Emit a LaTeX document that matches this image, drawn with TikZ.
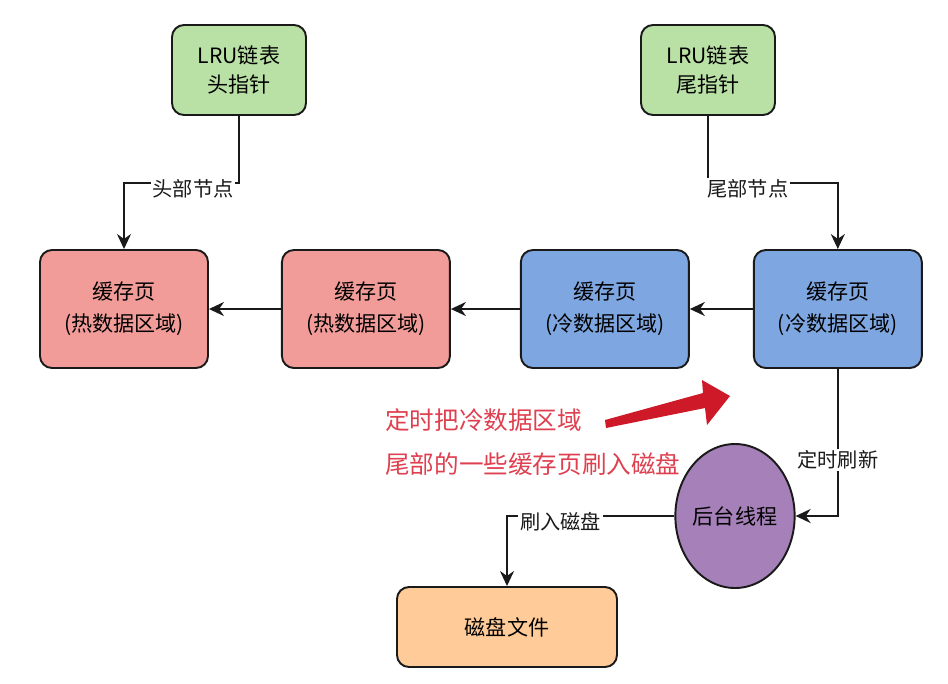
\documentclass[tikz,border=0pt]{standalone}
\usepackage{fontspec}
\setmainfont{Noto Sans CJK SC}
\usetikzlibrary{arrows.meta,positioning,shapes.geometric}
\definecolor{lrugreen}{HTML}{B9E0A5}
\definecolor{hotred}{HTML}{F19C99}
\definecolor{coldblue}{HTML}{7EA6E0}
\definecolor{diskorange}{HTML}{FFCC99}
\definecolor{threadpurple}{HTML}{A680B8}
\definecolor{notetext}{HTML}{DE4050}
\definecolor{notered}{HTML}{CD1928}
\definecolor{edgedark}{HTML}{1A1A1A}

\begin{document}
\begin{tikzpicture}[
    x=0.2mm, y=-0.2mm,
    font=\fontsize{12}{18}\selectfont,
    pagebox/.style={draw=edgedark,line width=1.1pt,rounded corners=2.4mm,align=center,minimum width=33.6mm,minimum height=23.6mm,inner sep=0pt},
    ptrbox/.style={pagebox,fill=lrugreen,minimum width=26.8mm,minimum height=18mm,font=\fontsize{12}{17}\selectfont},
    lbl/.style={fill=white,inner sep=1pt,yshift=-1.2mm,font=\fontsize{11.5}{14}\selectfont},
    arrow/.style={-{Stealth[length=3mm,width=2.8mm]},line width=1.1pt,edgedark}
  ]
    \useasboundingbox (0,0) rectangle (948,683);
    \node[ptrbox] (head) at (239,70) {LRU链表\\头指针};
    \node[ptrbox] (tail) at (708,70) {LRU链表\\尾指针};
    \node[pagebox,fill=hotred] (hot1) at (124,309) {缓存页\\(热数据区域)};
    \node[pagebox,fill=hotred,right=14.4mm of hot1] (hot2) {缓存页\\(热数据区域)};
    \node[pagebox,fill=coldblue,right=13.8mm of hot2] (cold1) {缓存页\\(冷数据区域)};
    \node[pagebox,fill=coldblue,right=12.6mm of cold1] (cold2) {缓存页\\(冷数据区域)};
    \node[ellipse,draw=edgedark,line width=1.1pt,fill=threadpurple,inner sep=0pt,minimum width=20mm,minimum height=28.8mm] (worker) at (735,516) {后台线程};
    \node[pagebox,fill=diskorange,minimum width=44mm,minimum height=16mm] (disk) at (507,627) {磁盘文件};
    \node[anchor=west,align=left,inner sep=0pt,text=notetext,font=\fontsize{14}{25.5}\selectfont] (note) at (385,442) {定时把冷数据区域\\尾部的一些缓存页刷入磁盘};

    % pointers
    \coordinate (hbend) at (239,183);
    \coordinate (tbend) at (708,183);
    \draw[arrow] (head.south) -- (hbend) -| node[lbl,pos=0.2] {头部节点} (hot1.north);
    \draw[arrow] (tail.south) -- (tbend) -| node[lbl,pos=0.154] {尾部节点} (cold2.north);

    % list order
    \draw[arrow] (hot2) -- (hot1);
    \draw[arrow] (cold1) -- (hot2);
    \draw[arrow] (cold2) -- (cold1);

    % flush
    \draw[arrow] (cold2.south) |- node[lbl,pos=0.31,yshift=1.2mm] {定时刷新} (worker.east);
    \draw[arrow] (worker.west) -| node[lbl,pos=0.34] {刷入磁盘} (disk.north);

    \fill[notered] (605,420) -- (703,393) -- (702,380) -- (730,396) -- (707,425) -- (705,408) -- (606,428) -- cycle;
  \end{tikzpicture}
\end{document}
